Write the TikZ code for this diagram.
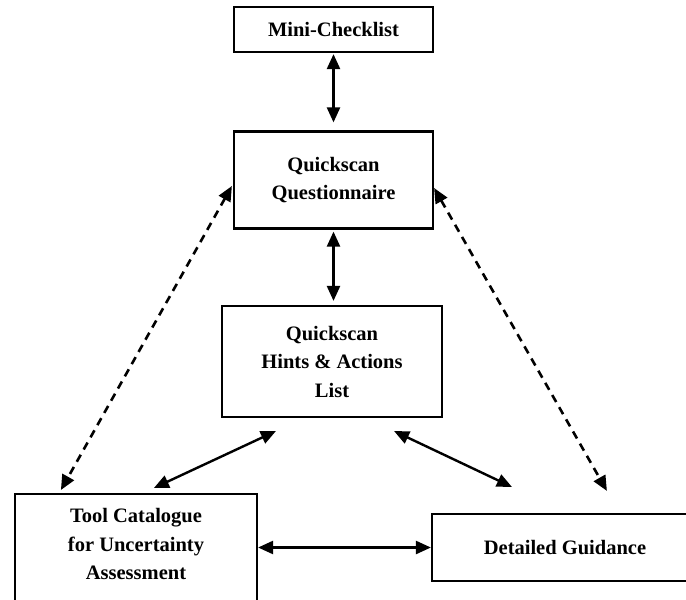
\documentclass[tikz,border=0pt]{standalone}
\usepackage{fontspec}
\setmainfont{Liberation Serif}
\usetikzlibrary{arrows.meta,calc}
\tikzset{
  panel/.style={draw, line width=2.2pt, fill=white, inner sep=0pt},
  lbl/.style={align=center, font=\fontsize{20.5}{28.5}\selectfont\bfseries},
  tip/.style={{Triangle[length=15pt,width=13pt]}-{Triangle[length=15pt,width=13pt]}},
  solidarrow/.style={tip, line width=2.4pt},
  dasharrow/.style={tip, line width=2.6pt, dash pattern=on 8pt off 6pt}
}
\begin{document}
\begin{tikzpicture}[x=1pt,y=-1pt]
\useasboundingbox (0,0) rectangle (686,600);
\clip (0,0) rectangle (686,600);
\fill[white] (0,0) rectangle (686,600);
% boxes
\node (mini) [panel, lbl, minimum width=199pt, minimum height=45pt] at (333.5,29.5) {Mini-Checklist};
\node (quest) [panel, lbl, minimum width=199pt, minimum height=97pt] at (333.5,180) {Quickscan\\Questionnaire};
\node (hints) [panel, lbl, minimum width=220pt, minimum height=111pt] at (332,361.5) {Quickscan\\Hints \& Actions\\List};
\node (tool) [panel, minimum width=242pt, minimum height=115pt, anchor=north] at (136,493) {};
\node (tooltext) [lbl] at (136,544) {Tool Catalogue\\for Uncertainty\\Assessment};
\node (detail) [panel, lbl, minimum width=266pt, minimum height=67pt] at (565,547.5) {Detailed Guidance};
% connectors
\draw[solidarrow] ($(mini.south)+(0,1)$) -- ($(quest.north)+(0,-8)$);
\draw[solidarrow] ($(quest.south)+(0,2)$) -- ($(quest.south |- hints.north)+(0,-4)$);
\draw[dasharrow] ($(quest.west)+(-1,6)$) -- ($(tool.north west)+(47,-3)$);
\draw[dasharrow] ($(quest.east)+(0,8)$) -- ($(detail.north west)+(176,-22)$);
\draw[solidarrow] ($(hints.south west)+(55,13)$) -- ($(tool.north west)+(140,-5)$);
\draw[solidarrow] ($(hints.south east)+(-49,13)$) -- ($(detail.north west)+(81,-26)$);
\draw[solidarrow] (tool.east |- detail.west) -- (detail.west);
\end{tikzpicture}
\end{document}
